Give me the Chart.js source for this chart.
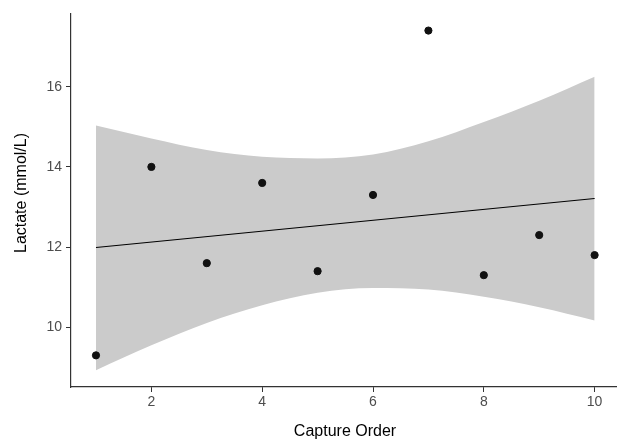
<!DOCTYPE html>
<html>
<head>
<meta charset="utf-8">
<script src="https://cdn.jsdelivr.net/npm/chart.js@4/dist/chart.umd.min.js"></script>
<style>
  html, body { margin: 0; padding: 0; background: #fff; }
  #wrap { width: 617px; height: 443px; position: relative; }
</style>
</head>
<body>
<div id="wrap"><canvas id="lactateChart"></canvas></div>
<script>
// --- data ---
var captureOrder = [1, 2, 3, 4, 5, 6, 7, 8, 9, 10];
var lactate      = [9.3, 14.0, 11.6, 13.6, 11.4, 13.3, 17.4, 11.3, 12.3, 11.8];

// fitted line (ends) and confidence band, read at each capture order
var fitX      = [1, 10];
var fitY      = [11.99, 13.21];
var bandUpper = [15.03, 14.71, 14.42, 14.25, 14.21, 14.31, 14.64, 15.12, 15.65, 16.25];
var bandLower = [8.93, 9.55, 10.11, 10.55, 10.86, 10.98, 10.94, 10.76, 10.50, 10.17];

var xTicks = [2, 4, 6, 8, 10];
var yTicks = [10, 12, 14, 16];

function pairs(xs, ys) {
  return xs.map(function (x, i) { return { x: x, y: ys[i] }; });
}

var axisTitles = {
  id: 'axisTitles',
  afterDraw: function (chart) {
    var ctx = chart.ctx;
    ctx.save();
    ctx.fillStyle = '#000';
    ctx.font = '16px "Liberation Sans", Arial, sans-serif';
    ctx.textAlign = 'center';
    ctx.textBaseline = 'middle';
    ctx.fillText('Capture Order', 345, 432);
    ctx.translate(22, 193);
    ctx.rotate(-Math.PI / 2);
    ctx.fillText('Lactate (mmol/L)', 0, 0);
    ctx.restore();
  }
};

var tickFont = { family: '"Liberation Sans", Arial, sans-serif', size: 14 };

new Chart(document.getElementById('lactateChart').getContext('2d'), {
  type: 'scatter',
  data: {
    datasets: [
      {
        label: 'Lactate',
        data: pairs(captureOrder, lactate),
        backgroundColor: '#111',
        borderColor: '#111',
        pointRadius: 3.6,
        pointHoverRadius: 3.6
      },
      {
        label: 'Fit',
        data: pairs(fitX, fitY),
        showLine: true,
        borderColor: '#000',
        borderWidth: 1.1,
        pointRadius: 0,
        fill: false
      },
      {
        label: 'CI upper',
        data: pairs(captureOrder, bandUpper),
        showLine: true,
        borderWidth: 0,
        borderColor: 'rgba(0,0,0,0)',
        backgroundColor: '#cbcbcb',
        pointRadius: 0,
        cubicInterpolationMode: 'monotone',
        fill: '+1'
      },
      {
        label: 'CI lower',
        data: pairs(captureOrder, bandLower),
        showLine: true,
        borderWidth: 0,
        borderColor: 'rgba(0,0,0,0)',
        pointRadius: 0,
        cubicInterpolationMode: 'monotone',
        fill: false
      }
    ]
  },
  plugins: [axisTitles],
  options: {
    responsive: true,
    maintainAspectRatio: false,
    animation: false,
    layout: { autoPadding: false, padding: { top: 14, right: 0, left: 0, bottom: 0 } },
    plugins: {
      legend: { display: false },
      tooltip: { enabled: false }
    },
    scales: {
      x: {
        type: 'linear',
        min: 0.549,
        max: 10.404,
        afterFit: function (scale) { scale.height = 56; },
        afterBuildTicks: function (scale) {
          scale.ticks = xTicks.map(function (v) { return { value: v }; });
        },
        grid: { display: true, drawOnChartArea: false, tickLength: 5, color: '#333', tickWidth: 1 },
        border: { display: true, color: '#333', width: 1.2 },
        ticks: { color: '#4d4d4d', font: tickFont, padding: 2, maxRotation: 0 }
      },
      y: {
        type: 'linear',
        min: 8.511,
        max: 17.813,
        afterFit: function (scale) { scale.width = 71; },
        afterBuildTicks: function (scale) {
          scale.ticks = yTicks.map(function (v) { return { value: v }; });
        },
        grid: { display: true, drawOnChartArea: false, tickLength: 5, color: '#333', tickWidth: 1 },
        border: { display: true, color: '#333', width: 1.2 },
        ticks: { color: '#4d4d4d', font: tickFont, padding: 4 }
      }
    }
  }
});
</script>
</body>
</html>
